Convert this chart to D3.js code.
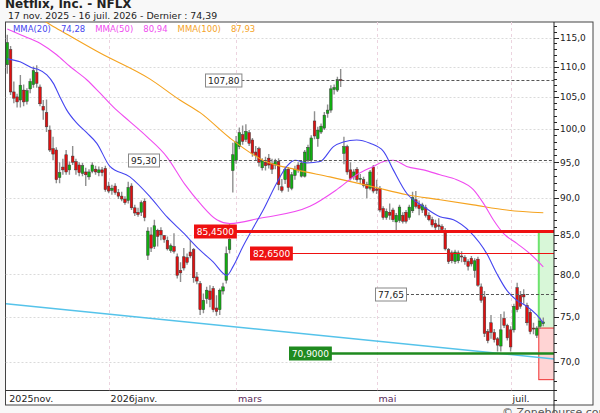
<!DOCTYPE html>
<html>
<head>
<meta charset="utf-8">
<script src="https://d3js.org/d3.v7.min.js"></script>
<style>
    body { margin: 0; background: #f8f8f8; }
    svg { display: block; font-family: "DejaVu Sans", Verdana, sans-serif; }
</style>
</head>
<body>
<script type="text/javascript">
// daily candles, 17 nov. 2025 -> 16 juil. 2026
let opens = [
 110.3,112.9,105.8,105.0,104.5,106.1,104.3,106.3,107.0,109.0,
 106.6,103.5,102.5,99.8,97.0,96.8,92.8,94.3,96.1,93.9,
 95.9,95.1,94.6,93.4,93.6,92.9,93.7,94.0,93.5,93.9,
 94.1,91.6,91.0,91.6,90.7,90.2,89.8,89.6,91.6,88.6,
 88.0,88.0,89.5,82.4,85.0,83.5,85.6,85.6,84.9,84.3,
 83.0,83.5,82.2,80.5,82.2,82.1,82.8,83.1,79.7,78.9,
 75.8,77.1,78.0,78.3,76.0,75.8,78.0,79.3,83.1,93.8,
 95.3,97.3,99.1,98.4,99.4,98.3,96.5,97.0,94.2,95.0,
 95.6,94.8,94.6,95.1,91.5,92.5,94.0,91.3,93.1,94.6,
 93.0,93.0,95.3,95.3,101.2,98.5,99.5,100.1,102.4,102.9,
 106.2,106.1,107.8,96.3,97.3,93.9,92.9,94.0,92.6,92.5,
 91.8,91.3,94.3,91.2,91.3,88.5,87.3,88.0,88.3,86.7,
 86.9,87.6,88.0,87.3,88.2,89.7,89.0,88.3,88.6,87.6,
 87.0,86.5,86.3,86.1,85.5,83.1,82.7,81.6,81.7,82.3,
 82.1,81.6,82.0,80.5,81.9,78.5,77.3,73.3,74.3,73.2,
 72.5,71.7,74.8,74.0,73.5,73.5,78.4,77.5,77.6,76.3,
 75.5,73.7,72.9,73.9,74.2];
let highs = [
 115.5,113.5,107.5,105.5,108.6,107.0,106.4,108.0,110.0,110.2,
 107.0,104.5,104.6,100.5,98.8,97.2,95.0,95.5,96.8,95.1,
 97.4,95.5,95.0,94.9,94.2,94.0,95.0,94.5,94.4,94.3,
 94.5,92.2,91.8,92.0,91.2,90.8,90.2,92.2,92.0,89.0,
 88.6,89.6,89.9,86.0,86.0,87.0,85.8,86.0,85.0,84.8,
 83.9,85.2,82.6,81.5,83.3,82.6,84.3,83.3,80.3,79.2,
 77.7,78.5,78.7,78.6,77.5,78.3,79.0,83.5,86.4,97.9,
 98.9,100.2,100.5,100.7,99.8,98.6,97.4,97.3,95.6,95.8,
 96.2,95.5,95.5,95.6,92.6,94.4,94.3,93.6,94.5,95.0,
 95.3,96.8,97.6,99.0,102.7,100.3,100.8,102.6,103.8,106.9,
 107.0,108.3,109.6,98.8,97.6,95.0,94.0,94.3,93.3,92.9,
 92.2,93.9,94.6,92.5,91.6,88.8,88.5,89.2,88.6,87.9,
 89.0,88.0,88.3,89.0,90.8,90.9,89.6,89.3,89.0,88.0,
 87.4,87.0,87.2,86.4,85.9,83.3,83.0,83.1,83.0,82.9,
 82.4,81.9,82.3,82.0,82.2,78.9,78.0,73.6,75.2,73.6,
 72.7,75.3,75.6,74.2,73.9,76.5,79.0,78.0,78.2,76.6,
 75.8,74.3,73.9,74.9,74.9];
let lows = [
 108.8,105.3,104.0,103.3,103.3,103.5,103.8,105.6,106.5,106.5,
 103.5,101.4,99.5,96.5,95.3,92.0,92.0,93.2,93.2,93.2,
 94.6,93.2,93.0,93.0,91.6,92.5,93.4,93.2,93.0,93.0,
 90.8,90.6,90.4,90.4,89.8,89.5,89.0,89.2,88.3,87.5,
 87.4,87.5,86.8,81.8,82.8,83.2,83.5,84.3,84.0,83.0,
 82.7,82.6,79.5,79.1,80.5,81.2,82.0,79.0,78.8,75.2,
 75.4,76.5,76.1,75.5,75.1,75.2,77.6,78.9,82.6,90.7,
 94.8,96.9,97.6,98.0,97.4,95.8,95.3,94.4,93.8,93.8,
 94.1,93.3,94.0,91.0,90.7,91.9,90.8,91.0,92.5,93.5,
 92.8,92.8,95.0,95.0,98.4,97.3,99.2,99.8,101.7,102.5,
 105.4,105.8,106.6,94.7,93.2,92.4,92.5,92.2,91.9,91.4,
 89.9,91.0,90.6,90.5,88.0,87.0,87.0,87.0,86.7,85.5,
 86.6,86.5,86.5,87.0,87.9,88.5,87.6,87.9,87.3,86.8,
 86.0,85.6,85.6,85.4,83.0,81.3,81.4,81.3,81.4,81.5,
 81.2,80.5,81.0,79.6,78.5,76.6,72.7,72.0,72.5,72.1,
 71.1,71.1,73.7,72.3,71.1,73.2,75.5,75.9,76.5,74.0,
 73.0,73.0,72.6,73.6,73.9];
let closes = [
 114.1,105.8,104.8,104.2,106.9,104.2,106.0,107.5,109.3,107.2,
 103.9,102.9,100.3,96.8,96.2,92.5,93.5,93.9,93.6,94.6,
 95.0,93.9,93.5,94.5,93.2,93.6,94.6,93.6,93.9,93.5,
 91.1,90.9,91.3,90.7,90.2,89.8,89.3,91.4,88.6,87.9,
 87.7,89.3,87.3,85.5,83.3,86.2,84.8,85.0,84.4,83.2,
 83.6,82.9,79.9,80.2,80.8,81.5,82.3,79.6,79.2,75.8,
 76.9,78.1,77.0,75.8,75.6,78.1,78.5,82.6,84.4,96.1,
 98.0,99.4,98.1,99.6,97.8,96.3,96.0,95.0,95.2,94.5,
 94.6,94.0,95.1,91.8,91.0,94.0,91.4,93.2,94.0,93.9,
 94.9,96.5,97.2,98.6,98.9,99.8,100.4,102.1,102.9,106.3,
 106.5,107.8,107.7,97.3,93.6,92.7,93.6,92.5,92.7,91.7,
 91.3,93.6,90.9,91.0,88.3,87.3,88.1,87.6,87.0,87.6,
 88.7,86.8,86.8,88.7,90.0,88.8,88.5,89.0,87.6,87.0,
 86.3,86.0,86.1,85.7,83.2,81.6,81.7,82.8,82.7,82.2,
 81.6,81.0,81.3,81.7,78.7,76.9,73.1,72.3,73.2,72.4,
 71.8,73.5,74.0,72.6,71.6,76.2,75.8,76.2,77.3,74.3,
 73.3,73.6,73.7,74.5,74.39];

// moving averages: [candle index, value]
let mma20 = [[0,111.3],[3.9,110.8],[8,109.7],[9.5,109.5],[12.1,108.6],[14.1,107.2],[16.1,105.0],
 [18.2,102.9],[21.2,100.9],[24.3,99.4],[27.4,97.8],[31.4,94.4],[37.5,92.9],[43.7,90.1],[48.8,87.4],
 [53.8,85.3],[58.8,83.1],[62.9,81.6],[67.2,79.9],[69.1,81.0],[72.1,83.5],[75.2,85.9],[78.3,88.3],
 [82.4,92.0],[85.5,94.4],[88,95.3],[91.6,94.9],[95.7,95.1],[99.8,97.3],[102.8,98.0],[106.9,98.3],
 [111,97.8],[115.1,96.6],[118.1,93.9],[122.2,90.6],[127.3,88.8],[132.4,87.4],[136.5,87.0],
 [141.6,85.4],[146.7,82.6],[149.8,80.1],[152.8,78.1],[155.9,76.9],[158.9,76.2],[162,75.2],[164,74.28]];
let mma50 = [[0,116.5],[4.4,115.4],[10,114.0],[15.1,112.0],[19.2,110.0],[24.3,107.8],[28.4,105.6],
 [32.4,103.4],[37.5,101.1],[42.7,98.8],[48.8,95.8],[54.4,91.8],[59,89.2],[64.1,87.0],[68.1,86.5],
 [77.3,87.2],[92.6,88.8],[100.8,91.1],[106.9,93.2],[112,94.4],[115.1,95.1],[118.1,95.3],[122.2,94.4],
 [127.3,93.9],[132.4,93.2],[137.5,92.5],[142.6,91.1],[145.7,89.2],[148.7,87.0],[151.8,85.2],
 [155.9,83.9],[159.9,82.6],[164,80.94]];
let mma100 = [[0,121.5],[6.9,119.4],[16.1,116.3],[28.4,112.3],[43.7,107.9],[52.8,104.5],[59,102.5],
 [68.1,98.6],[78.2,95.3],[88.6,93.9],[98.7,92.9],[111.9,91.5],[122.2,90.4],[132.4,89.7],
 [142.6,89.0],[152.8,88.3],[164,87.93]];
let trendLine = [[-0.4,76.5],[167.3,70.29]];

let levelValues = [107.80, 95.30, 85.45, 82.65, 77.65, 70.90];
let levelLabels = ["107,80", "95,30", "85,4500", "82,6500", "77,65", "70,9000"];
let levelLabelAt = [60.5, 36.9, 57.1, 74.3, 112.5, 86.2];
let zoneValues = [85.45, 73.7, 68.1];

let monthLabels = ["2025nov.", "2026janv.", "mars", "mai", "juil."];
let monthStart = [0, 31, 70, 113, 154];
let yMajor = [70, 75, 80, 85, 90, 95, 100, 105, 110, 115];

function draw() {
    let width = 600, height = 413;
    let left = 5.5, right = 554, top = 22, bottom = 390.5;
    let N = closes.length;
    let fmt = d3.formatLocale({decimal: ",", thousands: " ", grouping: [3], currency: ["", ""]});

    let svg = d3.select("body").append("svg")
        .attr("width", width)
        .attr("height", height);

    let x = d3.scaleLinear().domain([0, N - 1]).range([7.3, 543.3]);
    let y = d3.scaleLog().domain([70, 115]).range([361.7, 37.5]);

    svg.append("defs").append("clipPath").attr("id", "plot")
        .append("rect").attr("x", left).attr("y", top)
        .attr("width", right - left).attr("height", bottom - top);

    // frame
    svg.append("rect").attr("x", left).attr("y", top)
        .attr("width", 593 - left).attr("height", 405 - top)
        .attr("fill", "#fff").attr("stroke", "#444").attr("stroke-width", 1);
    svg.append("line").attr("x1", left).attr("x2", right).attr("y1", bottom).attr("y2", bottom)
        .attr("stroke", "#333");

    let g = svg.append("g").attr("clip-path", "url(#plot)");

    // grid
    g.selectAll(".hgrid").data(yMajor).join("line")
        .attr("x1", left).attr("x2", right)
        .attr("y1", d => Math.round(y(d)) + 0.5).attr("y2", d => Math.round(y(d)) + 0.5)
        .attr("stroke", "#dadada").attr("stroke-dasharray", "2,2");
    g.selectAll(".vgrid").data(monthStart.slice(1)).join("line")
        .attr("x1", d => Math.round(x(d)) + 0.5).attr("x2", d => Math.round(x(d)) + 0.5)
        .attr("y1", top).attr("y2", bottom)
        .attr("stroke", "#ecd3df").attr("stroke-dasharray", "3,3");

    // zone at the right
    let zx = x(N - 1) - 4.5;
    g.append("rect").attr("x", zx).attr("y", y(zoneValues[0]))
        .attr("width", right - zx).attr("height", y(zoneValues[1]) - y(zoneValues[0]))
        .attr("fill", "#d8f7d8");
    g.append("line").attr("x1", zx).attr("x2", zx)
        .attr("y1", y(zoneValues[0])).attr("y2", y(zoneValues[1]))
        .attr("stroke", "#6ee36e").attr("stroke-width", 2);
    g.append("rect").attr("x", zx).attr("y", y(zoneValues[1]))
        .attr("width", right - zx + 2).attr("height", y(zoneValues[2]) - y(zoneValues[1]))
        .attr("fill", "#ffd4d4").attr("stroke", "#f03030").attr("stroke-width", 1);

    // trend line
    let line = d3.line().x(d => x(d[0])).y(d => y(d[1]));
    g.append("path").attr("d", line(trendLine))
        .attr("fill", "none").attr("stroke", "#55c3ea").attr("stroke-width", 1.5);

    // candles
    let idx = d3.range(N);
    g.selectAll(".wick").data(idx).join("line")
        .attr("x1", i => x(i)).attr("x2", i => x(i))
        .attr("y1", i => y(highs[i])).attr("y2", i => y(lows[i]))
        .attr("stroke", "#8f8f8f").attr("stroke-width", 1.4);
    g.selectAll(".body").data(idx).join("rect")
        .attr("x", i => x(i) - 1.3)
        .attr("y", i => y(Math.max(opens[i], closes[i])))
        .attr("width", 2.6)
        .attr("height", i => Math.max(1, Math.abs(y(opens[i]) - y(closes[i]))))
        .attr("fill", i => closes[i] >= opens[i] ? "#10b010" : "#e01010")
        .attr("stroke", "#3a3a3a").attr("stroke-width", 0.5);

    // moving averages
    let smooth = d3.line().x(d => x(d[0])).y(d => y(d[1])).curve(d3.curveMonotoneX);
    [[mma100, "#f5a31f"], [mma50, "#f04cf0"], [mma20, "#4646f0"]].forEach(s => {
        g.append("path").attr("d", smooth(s[0]))
            .attr("fill", "none").attr("stroke", s[1]).attr("stroke-width", 1.1);
    });

    // horizontal levels
    let levelStyle = [
        {stroke: "#555", w: 1, dash: "3,2", fill: "#fff", text: "#222", border: "#888"},
        {stroke: "#555", w: 1, dash: "3,2", fill: "#fff", text: "#222", border: "#888"},
        {stroke: "#ee1111", w: 3, dash: null, fill: "#ee1111", text: "#fff", border: "#ee1111"},
        {stroke: "#ee1111", w: 1, dash: null, fill: "#ee1111", text: "#fff", border: "#ee1111"},
        {stroke: "#555", w: 1, dash: "3,2", fill: "#fff", text: "#222", border: "#888"},
        {stroke: "#1f8a1f", w: 2.5, dash: null, fill: "#1f8a1f", text: "#fff", border: "#1f8a1f"}
    ];
    levelValues.forEach((v, k) => {
        let st = levelStyle[k];
        let yy = Math.round(y(v)) + 0.5;
        let tw = levelLabels[k].length * 5.4 + 4;
        let bx = x(levelLabelAt[k]);
        g.append("line").attr("x1", bx + tw).attr("x2", right).attr("y1", yy).attr("y2", yy)
            .attr("stroke", st.stroke).attr("stroke-width", st.w)
            .attr("stroke-dasharray", st.dash);
        g.append("rect").attr("x", Math.round(bx) + 0.5).attr("y", yy - 6.5)
            .attr("width", tw).attr("height", 13)
            .attr("fill", st.fill).attr("stroke", st.border);
        g.append("text").attr("x", bx + tw / 2 + 0.5).attr("y", yy + 3.5)
            .attr("text-anchor", "middle").attr("font-size", 9).attr("fill", st.text)
            .text(levelLabels[k]);
    });

    // y axis on the right
    svg.append("line").attr("x1", right).attr("x2", right).attr("y1", top).attr("y2", height)
        .attr("stroke", "#222");
    let minor = d3.range(64, 119).filter(v => v % 5 !== 0 && y(v) > top && y(v) < height);
    svg.selectAll(".minor").data(minor).join("line")
        .attr("x1", right).attr("x2", right + 3)
        .attr("y1", d => Math.round(y(d)) + 0.5).attr("y2", d => Math.round(y(d)) + 0.5)
        .attr("stroke", "#222");
    svg.selectAll(".major").data(yMajor).join("line")
        .attr("x1", right).attr("x2", right + 5)
        .attr("y1", d => Math.round(y(d)) + 0.5).attr("y2", d => Math.round(y(d)) + 0.5)
        .attr("stroke", "#222");
    svg.selectAll(".ylab").data(yMajor).join("text")
        .attr("x", right + 6).attr("y", d => y(d) + 3.5)
        .attr("font-size", 9).attr("fill", "#222")
        .text(d => fmt.format(".1f")(d));

    // x labels
    svg.selectAll(".xlab").data(monthLabels).join("text")
        .attr("x", (d, k) => x(monthStart[k]) + 2)
        .attr("y", 401.5)
        .attr("font-size", 9.5)
        .attr("fill", (d, k) => (k === 2 || k === 3) ? "#5a2a5a" : "#222")
        .text(d => d);

    // legend
    let leg = svg.append("text").attr("x", 13).attr("y", 32).attr("font-size", 8.5);
    [[mma20, "MMA(20)", "#4646f0"], [mma50, "MMA(50)", "#f04cf0"], [mma100, "MMA(100)", "#f5a31f"]]
        .forEach((s, k) => {
            leg.append("tspan").attr("fill", s[2]).attr("dx", k ? 10 : 0).text(s[1]);
            leg.append("tspan").attr("fill", s[2]).attr("dx", 10)
                .text(fmt.format(".2f")(s[0][s[0].length - 1][1]));
        });

    // titles
    svg.append("text").attr("x", 5).attr("y", 8)
        .attr("font-size", 12).attr("font-weight", "bold").attr("fill", "#222")
        .text("Netflix, Inc. - NFLX");
    svg.append("text").attr("x", 8).attr("y", 18.5)
        .attr("font-size", 9.4).attr("fill", "#222")
        .text("17 nov. 2025 - 16 juil. 2026 - Dernier : " + fmt.format(".2f")(closes[N - 1]));
    svg.append("text").attr("x", 502).attr("y", 416)
        .attr("font-size", 11).attr("fill", "#555")
        .text("\u00a9 Zonebourse.com");
}

draw();
</script>
</body>
</html>
